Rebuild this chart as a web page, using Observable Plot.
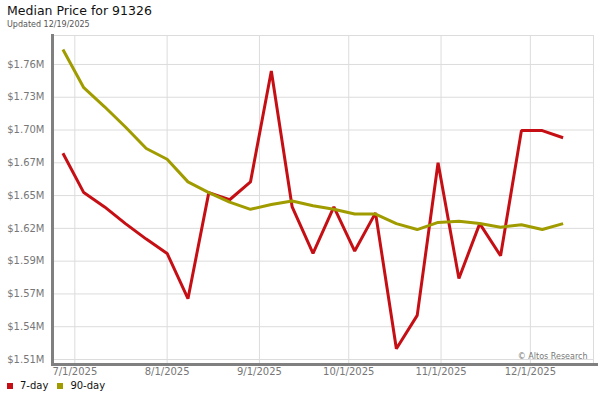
<!DOCTYPE html>
<html>
<head>
<meta charset="utf-8">
<script src="https://cdn.jsdelivr.net/npm/d3@7"></script>
<script src="https://cdn.jsdelivr.net/npm/@observablehq/plot@0.6"></script>
<style>
  html, body { margin: 0; padding: 0; background: #fff; }
  body { width: 600px; height: 400px; position: relative; overflow: hidden; font-family: "DejaVu Sans", sans-serif; }
  #title { position: absolute; left: 7px; top: 3px; font-size: 12.5px; color: #111; white-space: nowrap; }
  #subtitle { position: absolute; left: 7px; top: 20px; font-size: 8px; color: #555; white-space: nowrap; }
  #chart { position: absolute; left: 0; top: 30px; }
  #legend { position: absolute; left: 7px; top: 380px; font-size: 10px; color: #111; white-space: nowrap; display: flex; align-items: center; }
  .sw { display: inline-block; width: 6px; height: 6px; margin-right: 7px; }
  .item { display: inline-flex; align-items: center; margin-right: 9px; }
</style>
</head>
<body>
<div id="title">Median Price for 91326</div>
<div id="subtitle">Updated 12/19/2025</div>
<div id="chart"></div>
<div id="legend"></div>
<script>
// Weekly dates
const dates = ["2025-06-27","2025-07-04","2025-07-11","2025-07-18","2025-07-25",
  "2025-08-01","2025-08-08","2025-08-15","2025-08-22","2025-08-29",
  "2025-09-05","2025-09-12","2025-09-19","2025-09-26",
  "2025-10-03","2025-10-10","2025-10-17","2025-10-24","2025-10-31",
  "2025-11-07","2025-11-14","2025-11-21","2025-11-28",
  "2025-12-05","2025-12-12"];
// Median price, millions of dollars
const sevenDay = [1.683,1.650,1.638,1.624,1.611,1.599,1.561,1.650,1.644,1.659,
  1.752,1.638,1.599,1.638,1.601,1.633,1.519,1.547,1.675,1.578,1.624,1.597,1.702,1.702,1.696];
const ninetyDay = [1.770,1.738,1.722,1.705,1.687,1.678,1.659,1.650,1.642,1.636,
  1.640,1.643,1.639,1.636,1.632,1.632,1.624,1.619,1.625,1.626,1.624,1.621,1.623,1.619,1.624];
const seriesNames = ["7-day","90-day"];
const seriesColors = ["#c50f14","#a09c00"];
// Axis ticks
const xTicks = ["2025-07-01","2025-08-01","2025-09-01","2025-10-01","2025-11-01","2025-12-01"];
const xTickLabels = ["7/1/2025","8/1/2025","9/1/2025","10/1/2025","11/1/2025","12/1/2025"];
const yTicks = [1.51,1.5375,1.565,1.5925,1.62,1.6475,1.675,1.7025,1.73,1.7575];
const yTickLabels = ["$1.51M","$1.54M","$1.57M","$1.59M","$1.62M","$1.65M","$1.67M","$1.70M","$1.73M","$1.76M"];
const credit = "© Altos Research";

const parse = d3.utcParse("%Y-%m-%d");
const rows = [];
dates.forEach((d, i) => {
  rows.push({date: parse(d), value: sevenDay[i], series: seriesNames[0]});
});
dates.forEach((d, i) => {
  rows.push({date: parse(d), value: ninetyDay[i], series: seriesNames[1]});
});
const xTickDates = xTicks.map(parse);
const xLabelMap = new Map(xTickDates.map((d, i) => [+d, xTickLabels[i]]));
const yLabelMap = new Map(yTicks.map((v, i) => [v, yTickLabels[i]]));

const chart = Plot.plot({
  width: 600,
  height: 350,
  marginTop: 5,
  marginLeft: 52,
  marginRight: 7,
  marginBottom: 16,
  style: {fontFamily: "DejaVu Sans, sans-serif", fontSize: "10px", background: "#fff"},
  x: {type: "utc", domain: [new Date(Date.UTC(2025,5,23,12)), new Date(Date.UTC(2025,11,22,5))]},
  y: {domain: [1.5058, 1.7818]},
  color: {domain: seriesNames, range: seriesColors},
  marks: [
    Plot.gridX(xTickDates, {stroke: "#dcdcdc", strokeOpacity: 1}),
    Plot.gridY(yTicks, {stroke: "#dcdcdc", strokeOpacity: 1}),
    Plot.frame({stroke: "#dcdcdc"}),
    Plot.axisX(xTickDates, {tickSize: 0, tickPadding: 3, tickFormat: d => xLabelMap.get(+d), fill: "#777", fontSize: 10, label: null}),
    Plot.axisY(yTicks, {tickSize: 0, tickPadding: 8, tickFormat: v => yLabelMap.get(v), fill: "#777", fontSize: 10, label: null}),
    Plot.line(rows, {x: "date", y: "value", z: "series", stroke: "series", strokeWidth: 3, strokeLinejoin: "miter", strokeLinecap: "butt"}),
    Plot.text([credit], {frameAnchor: "bottom-right", dx: -6, dy: -6, fontSize: 8, fill: "#777"}),
    Plot.frame({anchor: "left", stroke: "#808080", strokeWidth: 3}),
    Plot.frame({anchor: "bottom", stroke: "#808080", strokeWidth: 3, insetRight: -3})
  ]
});
document.getElementById("chart").appendChild(chart);

const legend = document.getElementById("legend");
seriesNames.forEach((name, i) => {
  const item = document.createElement("span");
  item.className = "item";
  const sw = document.createElement("span");
  sw.className = "sw";
  sw.style.background = seriesColors[i];
  item.appendChild(sw);
  item.appendChild(document.createTextNode(name));
  legend.appendChild(item);
});
</script>
</body>
</html>
